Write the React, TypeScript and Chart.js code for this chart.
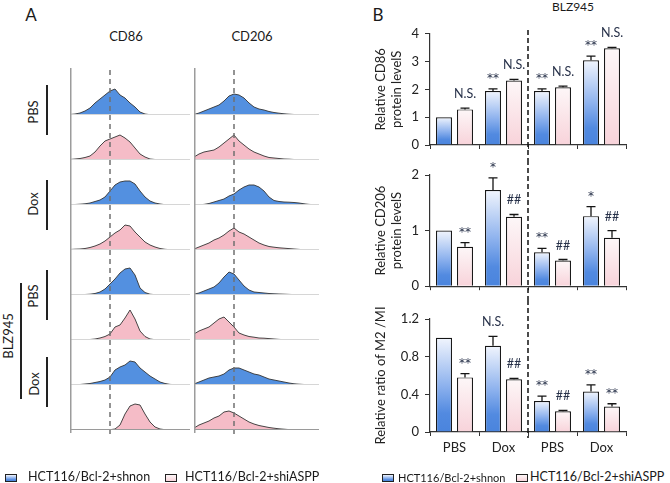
import React, { useEffect, useRef } from "react";
import { Chart, registerables } from "chart.js";
Chart.register(...registerables);

const FONT = "Lato, 'Open Sans', 'DejaVu Sans', sans-serif";

// ---------- Panel A: flow cytometry histograms (counts per channel) ----------
const channels = [0, 5, 10, 15, 20, 25, 30, 35, 40, 45, 50, 55, 60, 65, 70, 75, 80, 85, 90, 95, 100, 105, 110, 115, 120, 125];
const markerChannel = 40;

// CD86 column
const cd86PbsShnon = [0.5, 1, 2, 4, 7, 12, 16, 20, 24, 26, 20, 17, 12, 8, 3, 1, 0.3, 0.2, 0, 0.2, 0, 0, 0, 0, 0, 0];
const cd86PbsShi = [0.5, 1, 1.5, 2.5, 4, 8, 14, 19, 21, 23, 25, 22, 18, 12, 6, 3, 1, 0.5, 0.3, 0, 0.3, 0, 0, 0, 0, 0];
const cd86DoxShnon = [0.3, 0.5, 0.8, 1.2, 2, 3.5, 5, 8, 14, 20, 23, 24, 24, 21, 14, 8, 4, 2, 1, 0.3, 0.2, 0, 0, 0, 0, 0];
const cd86DoxShi = [0.5, 0.8, 1, 1.5, 2.5, 4, 6, 9, 13, 17, 20, 25, 24, 18, 13, 8, 5, 3, 1.5, 0.7, 0.3, 0.2, 0, 0, 0, 0];
const cd86BlzPbsShnon = [0.2, 0.3, 0.4, 0.5, 0.8, 1.5, 3, 6, 11, 16, 22, 26, 27, 20, 7, 2.5, 0.8, 0.3, 0.1, 0, 0, 0, 0, 0, 0, 0];
const cd86BlzPbsShi = [0.2, 0.2, 0.3, 0.4, 0.5, 1, 2, 3.5, 6, 13, 15, 22, 30, 21, 9, 3.5, 1, 0.3, 0, 0, 0, 0, 0, 0, 0, 0];
const cd86BlzDoxShnon = [0.2, 0.3, 0.5, 1, 1.5, 2.5, 3.5, 5, 8, 15, 18, 20, 24, 23, 17, 13, 9, 6, 3, 1.5, 0.6, 0.3, 0.1, 0, 0, 0];
const cd86BlzDoxShi = [0, 0, 0, 0, 0, 0, 0.1, 0.1, 0.3, 1, 5, 16, 24, 26, 25, 16, 8, 3, 1, 0.3, 0.2, 0, 0, 0, 0, 0];

// CD206 column
const cd206PbsShnon = [0.5, 2, 4, 6, 8, 10, 14, 19, 21, 20, 17, 12, 8, 6, 5, 3.5, 2.5, 1.8, 1.2, 0.8, 0.5, 0.4, 0.3, 0.2, 0.1, 0];
const cd206PbsShi = [3, 6, 8, 9, 10, 13, 17, 21, 25, 19, 15, 11, 8, 6, 4, 2.5, 2, 1.5, 1, 0.8, 0.5, 0.3, 0.2, 0, 0, 0];
const cd206DoxShnon = [0, 0.2, 0.6, 1.5, 3, 4.5, 6, 9, 11, 15, 18, 20, 20, 18, 14, 8, 4.5, 3.5, 3, 2.8, 2.5, 2, 1.2, 0.6, 0.3, 0.1];
const cd206DoxShi = [1, 3, 5, 7, 10, 12, 15, 19, 22, 18, 16, 13, 10, 7, 5, 3.5, 2.8, 2.2, 1.8, 1.4, 1, 0.6, 0.2, 0, 0, 0];
const cd206BlzPbsShnon = [0.8, 2, 4, 6, 8, 12, 18, 23, 21, 15, 9, 5, 3, 2.5, 2, 1.5, 1.2, 1, 0.8, 0.6, 0.4, 0.3, 0.1, 0, 0, 0];
const cd206BlzPbsShi = [6, 9, 11, 13, 17, 21, 23, 18, 13, 7, 5, 3.5, 2.8, 2, 1.8, 1.4, 1, 0.6, 0.3, 0.1, 0, 0, 0, 0, 0, 0];
const cd206BlzDoxShnon = [1, 3, 5, 7, 8, 9, 11, 15, 17, 17, 15, 13, 11, 10, 8, 6, 5, 4, 3, 2, 1.2, 0.8, 0.5, 0.4, 0.3, 0.1];
const cd206BlzDoxShi = [2, 5, 7, 9, 12, 14, 18, 19, 17, 14, 11, 8, 6, 4.5, 3.5, 2.5, 1.8, 1.2, 0.8, 0.4, 0.2, 0, 0, 0, 0, 0];

const cd86Column = [cd86PbsShnon, cd86PbsShi, cd86DoxShnon, cd86DoxShi, cd86BlzPbsShnon, cd86BlzPbsShi, cd86BlzDoxShnon, cd86BlzDoxShi];
const cd206Column = [cd206PbsShnon, cd206PbsShi, cd206DoxShnon, cd206DoxShi, cd206BlzPbsShnon, cd206BlzPbsShi, cd206BlzDoxShnon, cd206BlzDoxShi];

// ---------- Panel B: bar charts ----------
const groups = ["PBS", "Dox", "PBS", "Dox"];
const seriesNames = ["HCT116/Bcl-2+shnon", "HCT116/Bcl-2+shiASPP"];

const cd86Shnon = [1.0, 1.94, 1.94, 3.05];
const cd86ShnonErr = [0, 0.08, 0.08, 0.15];
const cd86Shi = [1.28, 2.32, 2.08, 3.48];
const cd86ShiErr = [0.05, 0.04, 0.04, 0.03];
const cd86ShnonSig = ["", "**", "**", "**"];
const cd86ShiSig = ["N.S.", "N.S.", "N.S.", "N.S."];

const cd206Shnon = [1.0, 1.73, 0.61, 1.26];
const cd206ShnonErr = [0, 0.22, 0.07, 0.17];
const cd206Shi = [0.71, 1.25, 0.46, 0.87];
const cd206ShiErr = [0.075, 0.04, 0.02, 0.13];
const cd206ShnonSig = ["", "*", "**", "*"];
const cd206ShiSig = ["**", "##", "##", "##"];

const ratioShnon = [1.0, 0.915, 0.33, 0.43];
const ratioShnonErr = [0, 0.1, 0.05, 0.07];
const ratioShi = [0.58, 0.56, 0.22, 0.27];
const ratioShiErr = [0.04, 0.01, 0.01, 0.03];
const ratioShnonSig = ["", "N.S.", "**", "**"];
const ratioShiSig = ["**", "##", "##", "**"];

const HIST_BLUE = "#5390e0";
const HIST_PINK = "#f5bcc7";
const BLUE_STOPS: [number, string][] = [[0, "#f1f5fd"], [0.5, "#8fb3ee"], [0.8, "#528ae0"], [1, "#4a84dd"]];
const PINK_STOPS: [number, string][] = [[0, "#fdf7f8"], [1, "#f8d3da"]];

const histDecor = {
  id: "histDecor",
  afterDatasetsDraw(chart: any, _a: any, o: any) {
    const { ctx, chartArea: a, scales } = chart;
    ctx.save();
    ctx.strokeStyle = o.last ? "#9a9a9a" : "#d6d6d6";
    ctx.lineWidth = 1;
    ctx.beginPath();
    ctx.moveTo(a.left, a.bottom - 0.5);
    ctx.lineTo(a.right, a.bottom - 0.5);
    ctx.stroke();
    ctx.strokeStyle = "#9c9c9c";
    ctx.lineWidth = 1.5;
    ctx.beginPath();
    ctx.moveTo(a.left + 0.75, o.first ? 0 : a.top);
    ctx.lineTo(a.left + 0.75, a.bottom + (o.last ? 3 : 0));
    ctx.stroke();
    const dx = scales.x.getPixelForValue(o.dashX);
    ctx.setLineDash([5, 4]);
    ctx.strokeStyle = "#707070";
    ctx.lineWidth = 1.5;
    ctx.beginPath();
    ctx.moveTo(dx, a.top);
    ctx.lineTo(dx, a.bottom + (o.last ? 5 : 0));
    ctx.stroke();
    ctx.restore();
  },
};

const barDecor = {
  id: "barDecor",
  afterDatasetsDraw(chart: any, _a: any, o: any) {
    const { ctx, scales } = chart;
    const y = scales.y;
    const x = scales.x;
    ctx.save();
    chart.data.datasets.forEach((ds: any, di: number) => {
      const meta = chart.getDatasetMeta(di);
      meta.data.forEach((bar: any, i: number) => {
        const v = ds.data[i];
        const e = o.errors[di][i];
        const yTop = y.getPixelForValue(v + e);
        if (e > 0) {
          ctx.strokeStyle = "#151515";
          ctx.lineWidth = 1.3;
          ctx.beginPath();
          ctx.moveTo(bar.x, bar.y);
          ctx.lineTo(bar.x, yTop);
          ctx.moveTo(bar.x - 4.5, yTop);
          ctx.lineTo(bar.x + 4.5, yTop);
          ctx.stroke();
        }
        const mark = o.marks[di][i];
        if (mark) {
          ctx.fillStyle = "#28324a";
          ctx.textAlign = "center";
          ctx.textBaseline = "alphabetic";
          if (mark.indexOf("*") >= 0) {
            ctx.font = "12px 'DejaVu Sans', sans-serif";
            ctx.fillText(mark, bar.x, yTop - 7);
          } else {
            ctx.font = `12.5px ${FONT}`;
            ctx.fillText(mark, bar.x, yTop - 10);
          }
        }
      });
    });
    const dx = (x.getPixelForValue(1) + x.getPixelForValue(2)) / 2;
    ctx.setLineDash([5, 3]);
    ctx.lineWidth = 1.5;
    ctx.strokeStyle = "#111";
    ctx.beginPath();
    ctx.moveTo(dx, o.dashTop);
    ctx.lineTo(dx, o.dashBottom === "area" ? chart.chartArea.bottom + 6 : chart.height);
    ctx.stroke();
    ctx.restore();
  },
};

function gradFill(stops: [number, string][]) {
  return (c: any) => {
    const chart = c.chart;
    const y = chart.scales && chart.scales.y;
    const fallback = stops[stops.length - 1][1];
    if (!y || typeof c.raw !== "number") return fallback;
    const top = y.getPixelForValue(c.raw);
    const bot = y.getPixelForValue(0);
    if (!isFinite(top) || !isFinite(bot) || Math.abs(bot - top) < 1) return fallback;
    const g = chart.ctx.createLinearGradient(0, top, 0, bot);
    stops.forEach(([p, col]) => g.addColorStop(p, col));
    return g;
  };
}

function ChartBox({ left, top, width, height, make }: any) {
  const ref = useRef<HTMLCanvasElement>(null);
  useEffect(() => {
    const chart = new Chart(ref.current as HTMLCanvasElement, make());
    return () => chart.destroy();
  }, []);
  return (
    <canvas
      ref={ref}
      width={width}
      height={height}
      style={{ position: "absolute", left, top, width, height, display: "block" }}
    />
  );
}

function histConfig(vals: number[], color: string, xMax: number, first: boolean, last: boolean): any {
  const pts = channels.map((c, i) => ({ x: c, y: vals[i] })).filter((p) => p.x <= xMax);
  return {
    type: "line",
    data: {
      datasets: [
        {
          data: pts,
          fill: "origin",
          backgroundColor: color,
          borderColor: "#333",
          borderWidth: 0.9,
          pointRadius: 0,
          tension: 0,
          segment: {
            borderColor: (s: any) => (s.p0.parsed.y === 0 && s.p1.parsed.y === 0 ? "rgba(0,0,0,0)" : "#333"),
          },
        },
      ],
    },
    options: {
      responsive: false,
      animation: false,
      devicePixelRatio: 1,
      layout: { padding: { left: 1, right: 1, top: 2, bottom: 4 } },
      scales: {
        x: { type: "linear", min: 0, max: xMax, display: false },
        y: { min: 0, max: 45, display: false },
      },
      plugins: {
        legend: { display: false },
        tooltip: { enabled: false },
        histDecor: { dashX: markerChannel, first, last },
      },
    },
    plugins: [histDecor],
  };
}

function barConfig(p: any): any {
  return {
    type: "bar",
    data: {
      labels: groups,
      datasets: [
        {
          label: seriesNames[0],
          data: p.shnon,
          backgroundColor: gradFill(BLUE_STOPS),
          borderColor: "#151515",
          borderWidth: 1.2,
          categoryPercentage: 0.857,
          barPercentage: 0.76,
        },
        {
          label: seriesNames[1],
          data: p.shi,
          backgroundColor: gradFill(PINK_STOPS),
          borderColor: "#151515",
          borderWidth: 1.2,
          categoryPercentage: 0.857,
          barPercentage: 0.76,
        },
      ],
    },
    options: {
      responsive: false,
      animation: false,
      devicePixelRatio: 1,
      layout: { padding: p.pad },
      scales: {
        x: {
          grid: { display: true, drawOnChartArea: false, tickLength: 4, color: "#333", lineWidth: 1 },
          border: { color: "#333", width: 1.2 },
          ticks: { display: p.showX, font: { family: FONT, size: 13 }, color: "#222", padding: 4 },
          afterFit: (s: any) => {
            s.height = p.xHeight;
          },
        },
        y: {
          min: 0,
          max: p.yMax,
          grid: { drawOnChartArea: false, tickLength: 5, color: "#333", lineWidth: 1 },
          border: { color: "#333", width: 1.2 },
          ticks: { stepSize: p.yStep, font: { family: FONT, size: 13 }, color: "#222", padding: 6 },
          title: {
            display: true,
            text: p.title,
            font: { family: FONT, size: 13, lineHeight: 1.2 },
            color: "#222",
            padding: { top: 6, bottom: 0 },
          },
          afterFit: (s: any) => {
            s.width = 63;
          },
        },
      },
      plugins: {
        legend: { display: false },
        tooltip: { enabled: false },
        barDecor: {
          errors: [p.shnonErr, p.shiErr],
          marks: [p.shnonSig, p.shiSig],
          dashTop: p.dashTop,
          dashBottom: p.dashBottom,
        },
      },
    },
    plugins: [barDecor],
  };
}

function Txt({ x, y, size = 13, rot = false, anchor = "center", children, spacing = 0 }: any) {
  const tx = anchor === "center" ? "-50%" : "0";
  return (
    <div
      style={{
        position: "absolute",
        left: x,
        top: y,
        transform: `translate(${tx},-50%)${rot ? " rotate(-90deg)" : ""}`,
        transformOrigin: anchor === "center" ? "50% 50%" : "0 50%",
        fontSize: size,
        fontFamily: FONT,
        whiteSpace: "nowrap",
        lineHeight: 1,
        color: "#1a1a1a",
        letterSpacing: spacing,
      }}
    >
      {children}
    </div>
  );
}

function VBar({ x, y1, y2 }: any) {
  return <div style={{ position: "absolute", left: x - 0.75, top: y1, width: 1.5, height: y2 - y1, background: "#222" }} />;
}

function LegendBox({ x, y, stops }: any) {
  const grad = `linear-gradient(to bottom, ${stops.map(([p, c]: any) => `${c} ${p * 100}%`).join(", ")})`;
  return (
    <div
      style={{
        position: "absolute",
        left: x,
        top: y,
        width: 10,
        height: 6,
        border: "1px solid #222",
        background: grad,
      }}
    />
  );
}

export default function App() {
  const rowBase = [115, 160, 205, 250, 295, 340, 385, 430];
  return (
    <div style={{ position: "absolute", left: 0, top: 0, width: 670, height: 483, background: "#fff", overflow: "hidden" }}>
      {/* Panel A */}
      <Txt x={31} y={14} size={17}>A</Txt>
      <Txt x={126} y={36}>CD86</Txt>
      <Txt x={252} y={36}>CD206</Txt>
      <Txt x={33} y={112} rot>PBS</Txt>
      <Txt x={33} y={204} rot>Dox</Txt>
      <Txt x={33} y={296} rot>PBS</Txt>
      <Txt x={34} y={384} rot>Dox</Txt>
      <Txt x={8} y={336} rot>BLZ945</Txt>
      <VBar x={47} y1={85} y2={135} />
      <VBar x={47} y1={180} y2={230} />
      <VBar x={47} y1={270} y2={320} />
      <VBar x={47} y1={357} y2={407} />
      <VBar x={21} y1={283} y2={399} />
      {cd86Column.map((vals, i) => (
        <ChartBox
          key={"l" + i}
          left={69}
          top={rowBase[i] - 47}
          width={122}
          height={51}
          make={() => histConfig(vals, i % 2 === 0 ? HIST_BLUE : HIST_PINK, 120, i === 0, i === 7)}
        />
      ))}
      {cd206Column.map((vals, i) => (
        <ChartBox
          key={"r" + i}
          left={193}
          top={rowBase[i] - 47}
          width={127}
          height={51}
          make={() => histConfig(vals, i % 2 === 0 ? HIST_BLUE : HIST_PINK, 125, i === 0, i === 7)}
        />
      ))}
      <LegendBox x={5} y={474} stops={BLUE_STOPS} />
      <Txt x={28} y={477} size={12.5} anchor="left">{seriesNames[0]}</Txt>
      <LegendBox x={165} y={474} stops={PINK_STOPS} />
      <Txt x={185} y={477} size={12.5} anchor="left">{seriesNames[1]}</Txt>

      {/* Panel B */}
      <Txt x={378} y={14} size={17}>B</Txt>
      <Txt x={573} y={7} size={12}>BLZ945</Txt>
      <ChartBox
        left={365}
        top={20}
        width={275}
        height={140}
        make={() =>
          barConfig({
            shnon: cd86Shnon, shi: cd86Shi, shnonErr: cd86ShnonErr, shiErr: cd86ShiErr,
            shnonSig: cd86ShnonSig, shiSig: cd86ShiSig, yMax: 4, yStep: 1,
            title: ["Relative CD86", "protein levelS"], showX: false, xHeight: 6,
            pad: { left: 2, right: 14, top: 13, bottom: 9 }, dashTop: 10, dashBottom: "canvas",
          })
        }
      />
      <ChartBox
        left={365}
        top={160}
        width={275}
        height={140}
        make={() =>
          barConfig({
            shnon: cd206Shnon, shi: cd206Shi, shnonErr: cd206ShnonErr, shiErr: cd206ShiErr,
            shnonSig: cd206ShnonSig, shiSig: cd206ShiSig, yMax: 2, yStep: 1,
            title: ["Relative CD206", "protein levelS"], showX: false, xHeight: 6,
            pad: { left: 2, right: 14, top: 15, bottom: 4 }, dashTop: 0, dashBottom: "canvas",
          })
        }
      />
      <ChartBox
        left={365}
        top={300}
        width={275}
        height={160}
        make={() =>
          barConfig({
            shnon: ratioShnon, shi: ratioShi, shnonErr: ratioShnonErr, shiErr: ratioShiErr,
            shnonSig: ratioShnonSig, shiSig: ratioShiSig, yMax: 1.2, yStep: 0.4,
            title: "Relative ratio of M2 /MI", showX: true, xHeight: 28,
            pad: { left: 2, right: 14, top: 19, bottom: 0 }, dashTop: 0, dashBottom: "area",
          })
        }
      />
      <LegendBox x={382} y={474} stops={BLUE_STOPS} />
      <Txt x={398} y={477} size={11} anchor="left">{seriesNames[0]}</Txt>
      <LegendBox x={516} y={474} stops={PINK_STOPS} />
      <Txt x={530} y={477} size={12.5} anchor="left">{seriesNames[1]}</Txt>
    </div>
  );
}
